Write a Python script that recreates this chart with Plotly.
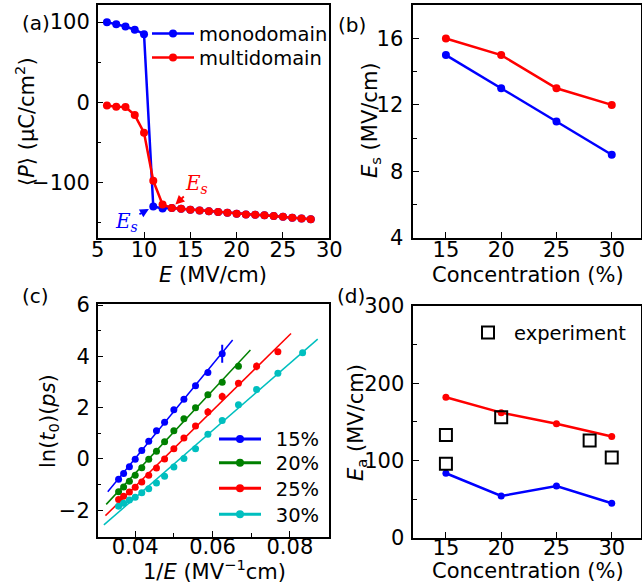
import plotly.graph_objects as go

W, H = 642, 583
FONT = "DejaVu Sans"
BLUE, RED, GREEN, CYAN = "#0000ff", "#ff0000", "#008000", "#00bfbf"

# ---------------- Panel (a) data ----------------
field_a = [6, 7, 8, 9, 10, 11, 12, 13, 14, 15, 16, 17, 18, 19, 20, 21, 22, 23, 24, 25, 26, 27, 28]
P_mono = [100, 97.5, 94.5, 90.5, 85, -130, -132.5, -132, -133, -134, -135, -136, -137, -138,
          -139, -140, -140.5, -141, -142, -143, -144, -145, -146]
P_multi = [-4, -5.5, -6, -16, -38, -98, -127.5, -132, -133, -134, -135, -136, -137, -138,
           -139, -140, -140.5, -141, -142, -143, -144, -145, -146]
names_a = ["monodomain", "multidomain"]

# ---------------- Panel (b) data ----------------
conc = [15, 20, 25, 30]
Es_mono = [15, 13, 11, 9]
Es_multi = [16, 15, 13, 12]

# ---------------- Panel (c) data ----------------
inv_E = [0.0357, 0.0370, 0.0385, 0.0400, 0.0417, 0.0435, 0.0455, 0.0476, 0.0500,
         0.0526, 0.0556, 0.0588, 0.0625, 0.0667, 0.0714, 0.0769, 0.0833]
lnt_15 = [-0.79, -0.57, -0.30, -0.01, 0.33, 0.69, 1.10, 1.43, 1.92, 2.33, 2.85, 3.37, 4.10]
lnt_20 = [-1.28, -1.09, -0.87, -0.63, -0.34, -0.01, 0.30, 0.67, 1.10, 1.57, 2.00, 2.50, 2.99, 3.61]
lnt_25 = [-1.58, -1.45, -1.29, -1.10, -0.90, -0.63, -0.35, 0.00, 0.40, 0.82, 1.28, 1.83,
          2.43, 2.95, 3.61, 4.18]
lnt_30 = [-1.84, -1.73, -1.60, -1.49, -1.32, -1.16, -0.94, -0.67, -0.31, 0.02, 0.40, 0.96,
          1.50, 2.11, 2.71, 3.34, 4.14]
err_15 = [0, 0, 0, 0, 0, 0, 0, 0, 0, 0, 0, 0, 0.35]
err_25 = [0, 0, 0, 0, 0, 0, 0, 0, 0, 0, 0, 0.15, 0.15, 0, 0.15, 0]
fit_x_15, fit_y_15 = [0.0329, 0.0652], [-1.28, 4.64]
fit_x_20, fit_y_20 = [0.0325, 0.0698], [-1.77, 4.25]
fit_x_25, fit_y_25 = [0.0323, 0.0803], [-2.21, 4.89]
fit_x_30, fit_y_30 = [0.0319, 0.0872], [-2.57, 4.67]
labels_c = ["15%", "20%", "25%", "30%"]

# ---------------- Panel (d) data ----------------
Ea_mono = [83.5, 54, 67, 44.6]
Ea_multi = [182, 162, 147.6, 131]
exp_conc = [15, 15, 20, 28, 30]
exp_Ea = [133, 95.7, 156, 126, 104]


def px(p):
    return p / W


def py(p):
    return 1 - p / H


fig = go.Figure()

# (a)
fig.add_trace(go.Scatter(x=field_a, y=P_mono, mode="lines+markers", name=names_a[0],
                         line=dict(color=BLUE, width=2.5), marker=dict(color=BLUE, size=8),
                         xaxis="x", yaxis="y", legend="legend"))
fig.add_trace(go.Scatter(x=field_a, y=P_multi, mode="lines+markers", name=names_a[1],
                         line=dict(color=RED, width=2.5), marker=dict(color=RED, size=8),
                         xaxis="x", yaxis="y", legend="legend2"))

# (b)
fig.add_trace(go.Scatter(x=conc, y=Es_mono, mode="lines+markers", showlegend=False,
                         line=dict(color=BLUE, width=2.5), marker=dict(color=BLUE, size=8),
                         xaxis="x2", yaxis="y2"))
fig.add_trace(go.Scatter(x=conc, y=Es_multi, mode="lines+markers", showlegend=False,
                         line=dict(color=RED, width=2.5), marker=dict(color=RED, size=8),
                         xaxis="x2", yaxis="y2"))

# (c)
series_c = [
    (lnt_15, err_15, fit_x_15, fit_y_15, BLUE),
    (lnt_20, None, fit_x_20, fit_y_20, GREEN),
    (lnt_25, err_25, fit_x_25, fit_y_25, RED),
    (lnt_30, None, fit_x_30, fit_y_30, CYAN),
]
for (yv, ev, fx, fy, col), lab in zip(series_c, labels_c):
    fig.add_trace(go.Scatter(x=fx, y=fy, mode="lines", showlegend=False,
                             line=dict(color=col, width=1.5), xaxis="x3", yaxis="y3"))
    ekw = {}
    if ev is not None:
        ekw["error_y"] = dict(type="data", array=ev, visible=True, color=col,
                              thickness=2, width=0)
    fig.add_trace(go.Scatter(x=inv_E[:len(yv)], y=yv, mode="markers", showlegend=False,
                             marker=dict(color=col, size=7), xaxis="x3", yaxis="y3", **ekw))
for i, ((yv, ev, fx, fy, col), lab) in enumerate(zip(series_c, labels_c)):
    fig.add_trace(go.Scatter(x=[None], y=[None], mode="lines+markers",
                             name="\u2002" + lab,
                             line=dict(color=col, width=3), marker=dict(color=col, size=8),
                             xaxis="x3", yaxis="y3", legend="legend%d" % (3 + i)))

# (d)
fig.add_trace(go.Scatter(x=conc, y=Ea_mono, mode="lines+markers", showlegend=False,
                         line=dict(color=BLUE, width=2.5), marker=dict(color=BLUE, size=7),
                         xaxis="x4", yaxis="y4"))
fig.add_trace(go.Scatter(x=conc, y=Ea_multi, mode="lines+markers", showlegend=False,
                         line=dict(color=RED, width=2.5), marker=dict(color=RED, size=7),
                         xaxis="x4", yaxis="y4"))
fig.add_trace(go.Scatter(x=exp_conc, y=exp_Ea, mode="markers", name="experiment",
                         marker=dict(symbol="square-open", color="black", size=12,
                                     line=dict(width=2, color="black")),
                         xaxis="x4", yaxis="y4", legend="legend7"))


def axis(domain, rng, anchor, dtick, tick0=None, minor_dtick=None, standoff=0):
    d = dict(domain=domain, range=rng, anchor=anchor, showline=True, linewidth=1.5,
             linecolor="black", mirror=True, ticks="inside", ticklen=6, tickwidth=1.3,
             tickcolor="black", showgrid=False, zeroline=False, dtick=dtick,
             tickfont=dict(family=FONT, size=21, color="black"), automargin=False,
             ticklabelstandoff=standoff)
    if tick0 is not None:
        d["tick0"] = tick0
    if minor_dtick is not None:
        d["minor"] = dict(ticks="inside", ticklen=3.5, tickwidth=1.2, tickcolor="black",
                          dtick=minor_dtick, showgrid=False)
    return d


xa = [px(97.7), px(329.3)]
xb = [px(413.3), px(640.5)]
ya = [py(237.7), py(5.3)]
yc = [py(536.7), py(304)]
yd = [py(537.7), py(305.7)]


def leg(xl, yrow):
    return dict(x=px(xl), y=py(yrow - 19), xanchor="left", yanchor="top",
                bgcolor="rgba(0,0,0,0)", font=dict(family=FONT, size=19.5, color="black"),
                itemwidth=42)


fig.update_layout(
    width=W, height=H, margin=dict(l=0, r=0, t=0, b=0),
    paper_bgcolor="white", plot_bgcolor="white",
    font=dict(family=FONT, size=20, color="black"),
    xaxis=axis(xa, [5, 30], "y", 5, standoff=-8),
    yaxis=axis(ya, [-169, 121], "x", 100, 0, 50, standoff=2),
    xaxis2=axis(xb, [12.05, 32.6], "y2", 5, standoff=-8),
    yaxis2=axis(ya, [4, 18], "x2", 4, 0, 2, standoff=4),
    xaxis3=axis(xa, [0.0303, 0.0902], "y3", 0.02, 0, 0.01, standoff=-10),
    yaxis3=axis(yc, [-3.03, 6.04], "x3", 2, 0, 1, standoff=2),
    xaxis4=axis(xb, [12.05, 32.6], "y4", 5, standoff=-10),
    yaxis4=axis(yd, [0, 300.5], "x4", 100, 0, 50, standoff=3),
    legend=leg(147, 33.3),
    legend2=leg(147, 57.3),
    legend3=leg(214, 438.7),
    legend4=leg(214, 462.5),
    legend5=leg(214, 488),
    legend6=leg(214, 514),
    legend7=leg(462, 332.3),
)

ann = []


def text(x, y, t, angle=0, size=21, color="black", family=FONT):
    ann.append(dict(x=px(x), y=py(y), xref="paper", yref="paper", text=t, showarrow=False,
                    textangle=angle, font=dict(family=family, size=size, color=color),
                    xanchor="center", yanchor="middle"))


# panel labels
text(36, 23, "(a)", size=20)
text(352, 25, "(b)", size=20)
text(35, 296, "(c)", size=20)
text(351, 296, "(d)", size=20)
# axis titles
text(213, 275, "<i>E</i> (MV/cm)")
text(25, 122, "⟨<i>P</i>⟩ (μC/cm<sup>2</sup>)", angle=-90)
text(528, 275, "Concentration (%)")
text(371, 120, "<i>E</i><sub>s</sub> (MV/cm)", angle=-90)
text(214, 570, "1/<i>E</i> (MV<sup>−1</sup>cm)")
text(49, 421, "ln(<i>t</i><sub>0</sub>)(<i>ps</i>)", angle=-90)
text(528, 571, "Concentration (%)")
text(357, 423, "<i>E</i><sub>a</sub> (MV/cm)", angle=-90)

# E_s arrows in panel (a)
ann.append(dict(x=11, y=-130, xref="x", yref="y", ax=8.1, ay=-149, axref="x", ayref="y",
                text="<i>E<sub>s</sub></i>", showarrow=True, arrowhead=2, arrowsize=1,
                arrowwidth=1.8, arrowcolor=BLUE, standoff=5,
                font=dict(family="DejaVu Serif", size=20, color=BLUE)))
ann.append(dict(x=13, y=-132, xref="x", yref="y", ax=15.7, ay=-102, axref="x", ayref="y",
                text="<i>E<sub>s</sub></i>", showarrow=True, arrowhead=2, arrowsize=1,
                arrowwidth=1.8, arrowcolor=RED, standoff=5,
                font=dict(family="DejaVu Serif", size=20, color=RED)))

fig.update_layout(annotations=ann)
fig.write_html("out.html")
